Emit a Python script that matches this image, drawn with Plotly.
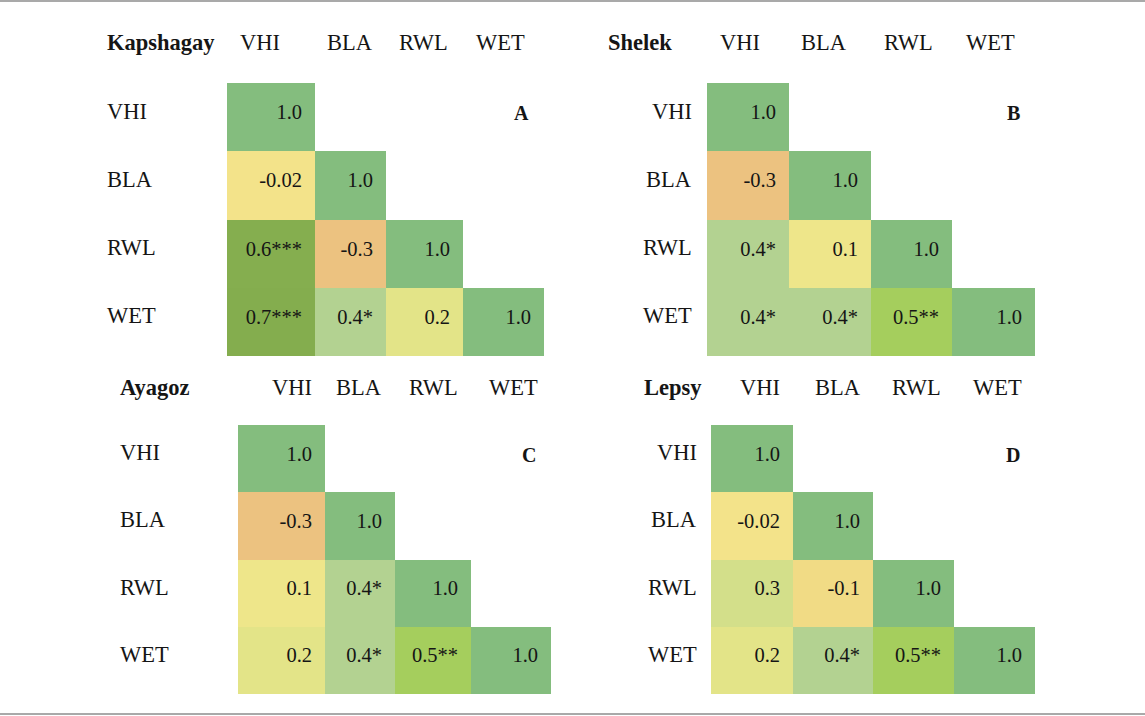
import plotly.graph_objects as go

# correlation matrices (lower triangle)
variables = ["VHI", "BLA", "RWL", "WET"]
stations = ["Kapshagay", "Shelek", "Ayagoz", "Lepsy"]
panel_letters = ["A", "B", "C", "D"]

kapshagay_r = [[1.0], [-0.02, 1.0], [0.6, -0.3, 1.0], [0.7, 0.4, 0.2, 1.0]]
kapshagay_sig = [[""], ["", ""], ["***", "", ""], ["***", "*", "", ""]]
shelek_r = [[1.0], [-0.3, 1.0], [0.4, 0.1, 1.0], [0.4, 0.4, 0.5, 1.0]]
shelek_sig = [[""], ["", ""], ["*", "", ""], ["*", "*", "**", ""]]
ayagoz_r = [[1.0], [-0.3, 1.0], [0.1, 0.4, 1.0], [0.2, 0.4, 0.5, 1.0]]
ayagoz_sig = [[""], ["", ""], ["", "*", ""], ["", "*", "**", ""]]
lepsy_r = [[1.0], [-0.02, 1.0], [0.3, -0.1, 1.0], [0.2, 0.4, 0.5, 1.0]]
lepsy_sig = [[""], ["", ""], ["", "", ""], ["", "*", "**", ""]]

all_r = [kapshagay_r, shelek_r, ayagoz_r, lepsy_r]
all_sig = [kapshagay_sig, shelek_sig, ayagoz_sig, lepsy_sig]

# page layout in pixels
W, H = 1145, 716
FONT = "Liberation Serif"
INK = "#151515"
PAD = 13  # right padding of numbers inside cells
TXT_UP = 0.045  # numbers sit a little above the cell centre

panels = [
    dict(left=227, widths=[88, 71, 77, 81], top=83, bottom=356, head_y=43,
         heads=[260, 350, 423, 500], title_x=105, lab_x=105, lab_anchor="left"),
    dict(left=707, widths=[82, 82, 81, 83], top=83, bottom=356, head_y=43,
         heads=[740, 824, 908, 990], title_x=606, lab_x=694, lab_anchor="right"),
    dict(left=238, widths=[87, 70, 76, 80], top=425, bottom=694, head_y=387,
         heads=[292, 359, 433, 513], title_x=118, lab_x=118, lab_anchor="left"),
    dict(left=711, widths=[82, 80, 81, 81], top=425, bottom=694, head_y=387,
         heads=[760, 838, 916, 997], title_x=642, lab_x=699, lab_anchor="right"),
]

# conditional-format style colours
zmin, zmax = -0.3, 1.0
stops = [(-0.3, "#ECC280"), (-0.1, "#F1DB85"), (-0.02, "#F3E38A"), (0.1, "#EEE68A"),
         (0.2, "#E3E488"), (0.3, "#D3DF8A"), (0.4, "#B3D291"), (0.5, "#A5CE5D"),
         (0.6, "#85AE4F"), (0.7, "#84AD4E"), (1.0, "#84BD7E")]
colorscale = [[(v - zmin) / (zmax - zmin), c] for v, c in stops]


def fmt(v):
    return f"{v:.1f}" if abs(round(v, 1) - v) < 1e-9 else f"{v:.2f}"


fig = go.Figure()
annotations = []
layout_axes = {}

for k, p in enumerate(panels):
    n = k + 1
    xa = "x" if n == 1 else f"x{n}"
    ya = "y" if n == 1 else f"y{n}"
    edges = [p["left"]]
    for w in p["widths"]:
        edges.append(edges[-1] + w)

    r, sig = all_r[k], all_sig[k]
    z = [[r[i][j] if j <= i else None for j in range(4)] for i in range(4)]

    fig.add_trace(go.Heatmap(
        z=z, x=edges, y=[0, 1, 2, 3, 4], xaxis=xa, yaxis=ya,
        colorscale=colorscale, zmin=zmin, zmax=zmax, showscale=False,
        hoverinfo="skip"))

    tx, ty, tt = [], [], []
    for i in range(4):
        for j in range(i + 1):
            tx.append(edges[j + 1] - PAD)
            ty.append(i + 0.5 - TXT_UP)
            tt.append(fmt(r[i][j]) + sig[i][j])
    fig.add_trace(go.Scatter(
        x=tx, y=ty, text=tt, mode="text", textposition="middle left",
        textfont=dict(family=FONT, size=20.5, color=INK),
        xaxis=xa, yaxis=ya, showlegend=False, hoverinfo="skip"))

    layout_axes["xaxis" if n == 1 else f"xaxis{n}"] = dict(
        domain=[edges[0] / W, edges[-1] / W], range=[edges[0], edges[-1]],
        visible=False, fixedrange=True, anchor=ya)
    layout_axes["yaxis" if n == 1 else f"yaxis{n}"] = dict(
        domain=[1 - p["bottom"] / H, 1 - p["top"] / H], range=[4, 0],
        visible=False, fixedrange=True, anchor=xa)

    # row labels
    for i, name in enumerate(variables):
        annotations.append(dict(
            x=p["lab_x"] / W, xref="paper", y=i + 0.5, yref=ya, yshift=6,
            text=name, showarrow=False, xanchor=p["lab_anchor"], yanchor="middle",
            font=dict(family=FONT, size=22.5, color=INK)))
    # column headers
    for j, name in enumerate(variables):
        annotations.append(dict(
            x=p["heads"][j] / W, xref="paper", y=1 - p["head_y"] / H, yref="paper",
            text=name, showarrow=False, xanchor="center", yanchor="middle",
            font=dict(family=FONT, size=22.5, color=INK)))
    # station name
    annotations.append(dict(
        x=p["title_x"] / W, xref="paper", y=1 - p["head_y"] / H, yref="paper",
        text=f"<b>{stations[k]}</b>", showarrow=False, xanchor="left", yanchor="middle",
        font=dict(family=FONT, size=22.5, color=INK)))
    # panel letter
    annotations.append(dict(
        x=edges[-1] - PAD, xref=xa, y=0.5, yref=ya, yshift=4,
        text=f"<b>{panel_letters[k]}</b>", showarrow=False, xanchor="right", yanchor="middle",
        font=dict(family=FONT, size=20, color=INK)))

fig.update_layout(
    width=W, height=H,
    margin=dict(l=0, r=0, t=0, b=0),
    paper_bgcolor="white", plot_bgcolor="rgba(0,0,0,0)",
    font=dict(family=FONT, color=INK),
    annotations=annotations,
    shapes=[
        dict(type="line", xref="paper", yref="paper", x0=0, x1=1, y0=1 - 1 / H, y1=1 - 1 / H,
             line=dict(color="#A9A9A9", width=2)),
        dict(type="line", xref="paper", yref="paper", x0=0, x1=1, y0=1 - 714 / H, y1=1 - 714 / H,
             line=dict(color="#A9A9A9", width=2)),
    ],
    **layout_axes,
)

fig.write_html("out.html", config={"displayModeBar": False},
               post_script="document.body.style.margin='0';")
